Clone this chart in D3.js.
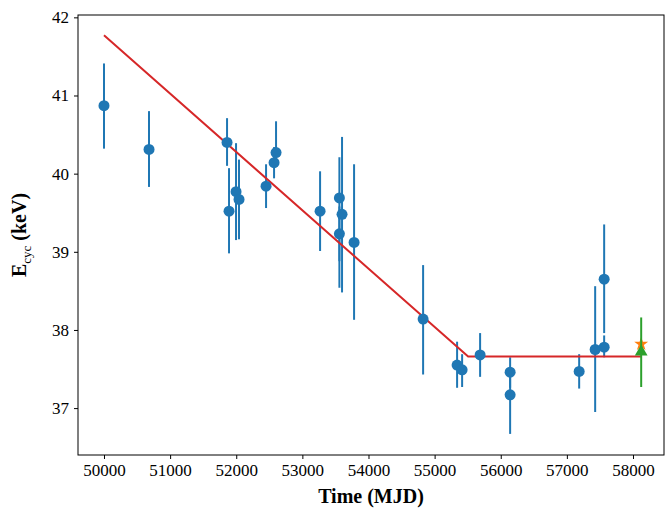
<!DOCTYPE html>
<html><head><meta charset="utf-8">
<script src="https://cdn.jsdelivr.net/npm/d3@7"></script>
<style>body{margin:0;background:#fff}</style></head>
<body><svg id="c" width="665" height="515"></svg>
<script>
const times=[50000,50681,51861,51891,51997,52042,52451,52572,52602,53268,53560,53560,53600,53782,54826,55340,55416,55688,56142,56142,57186,57428,57564,57564];
const ecyc=[40.87,40.31,40.40,39.52,39.77,39.67,39.84,40.14,40.27,39.52,39.69,39.23,39.48,39.12,38.14,37.55,37.49,37.68,37.46,37.17,37.47,37.75,37.78,38.65];
const errLo=[0.55,0.48,0.30,0.54,0.62,0.51,0.28,0.20,0.15,0.51,1.15,0.35,1.00,0.99,0.71,0.29,0.22,0.28,0.20,0.50,0.22,0.80,0.13,0.69];
const errHi=[0.54,0.49,0.31,0.55,0.62,0.51,0.28,0.20,0.40,0.51,0.52,0.35,0.99,1.00,0.69,0.30,0.20,0.28,0.19,0.29,0.22,0.81,0.15,0.70];
const fitT=[50000,55507,58124];
const fitE=[41.77,37.66,37.66];
const extraT=[58124], extraE=[37.72], extraLo=[0.45], extraHi=[0.44];
const starT=[58124], starE=[37.82];
const xTicks=[50000,51000,52000,53000,54000,55000,56000,57000,58000];
const yTicks=[37,38,39,40,41,42];

const svg=d3.select("#c");
const L=78,R=664,T=15,B=455;
const x=d3.scaleLinear().domain([49607,58469]).range([L,R]);
const y=d3.scaleLinear().domain([36.40,42.03]).range([B,T]);
const font="'Liberation Serif','DejaVu Serif',serif";
const xa=svg.append("g").attr("transform",`translate(0,${B})`).call(d3.axisBottom(x).tickValues(xTicks).tickSize(4).tickPadding(5).tickFormat(d3.format("d")));
const ya=svg.append("g").attr("transform",`translate(${L},0)`).call(d3.axisLeft(y).tickValues(yTicks).tickSize(4).tickPadding(5).tickFormat(d3.format("d")));
[xa,ya].forEach(a=>{a.selectAll("text").attr("font-family",font).attr("font-size",17).attr("fill","#000");a.select(".domain").remove();a.selectAll("line").attr("stroke","#000");});
svg.append("rect").attr("x",L).attr("y",T).attr("width",R-L).attr("height",B-T).attr("fill","none").attr("stroke","#000").attr("stroke-width",1);
const blue="#1f77b4";
const idx=d3.range(times.length);
svg.append("g").selectAll("line").data(idx).join("line")
 .attr("x1",i=>x(times[i])).attr("x2",i=>x(times[i]))
 .attr("y1",i=>y(ecyc[i]-errLo[i])).attr("y2",i=>y(ecyc[i]+errHi[i]))
 .attr("stroke",blue).attr("stroke-width",2);
svg.append("path").datum(d3.range(fitT.length)).attr("fill","none").attr("stroke","#d62728").attr("stroke-width",2)
 .attr("d",d3.line().x(i=>x(fitT[i])).y(i=>y(fitE[i])));
svg.append("g").selectAll("circle").data(idx).join("circle")
 .attr("cx",i=>x(times[i])).attr("cy",i=>y(ecyc[i])).attr("r",5.5).attr("fill",blue);
// star (orange)
svg.append("g").selectAll("path").data(d3.range(starT.length)).join("path")
 .attr("transform",i=>`translate(${x(starT[i])},${y(starE[i])})`)
 .attr("d",d3.symbol().type(d3.symbolStar).size(60)).attr("fill","#ff7f0e");
svg.append("g").selectAll("line").data(d3.range(extraT.length)).join("line")
 .attr("x1",i=>x(extraT[i])).attr("x2",i=>x(extraT[i]))
 .attr("y1",i=>y(extraE[i]-extraLo[i])).attr("y2",i=>y(extraE[i]+extraHi[i]))
 .attr("stroke","#2ca02c").attr("stroke-width",2);
svg.append("g").selectAll("path").data(d3.range(extraT.length)).join("path")
 .attr("transform",i=>`translate(${x(extraT[i])},${y(extraE[i])})`)
 .attr("d",d3.symbol().type(d3.symbolTriangle).size(70)).attr("fill","#2ca02c");
svg.append("text").attr("x",(L+R)/2).attr("y",503).attr("text-anchor","middle").attr("font-family",font).attr("font-weight","bold").attr("font-size",20).text("Time (MJD)");
const yl=svg.append("text").attr("transform",`translate(26,${(T+B)/2}) rotate(-90)`).attr("text-anchor","middle").attr("font-family",font).attr("font-weight","bold").attr("font-size",20);
yl.append("tspan").text("E");
yl.append("tspan").attr("font-size",13).attr("font-weight","normal").attr("dy",5).text("cyc");
yl.append("tspan").attr("dy",-5).text(" (keV)");
</script></body></html>
